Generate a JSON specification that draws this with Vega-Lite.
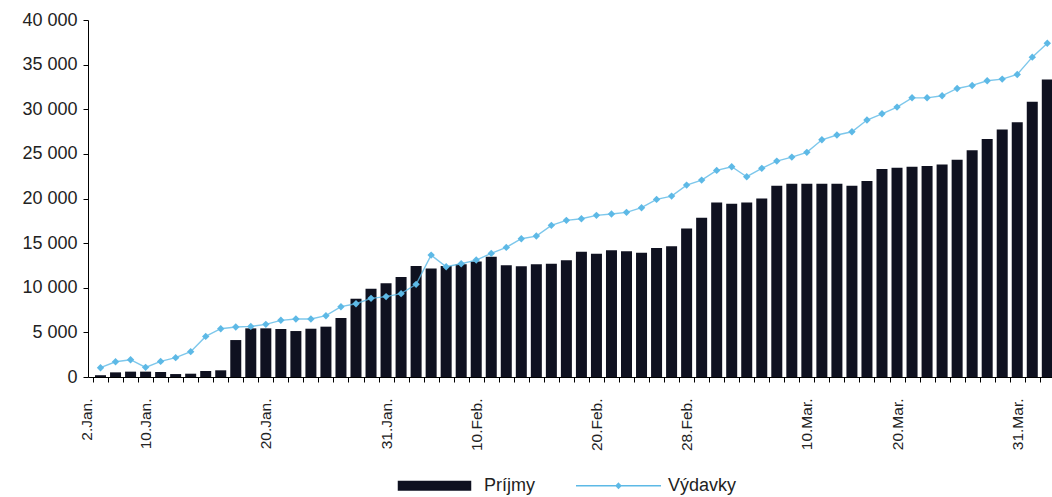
{
  "$schema": "https://vega.github.io/schema/vega-lite/v6.json",
  "width": 964,
  "height": 357,
  "autosize": {"type": "none"},
  "padding": {"left": 88, "top": 20, "right": 0, "bottom": 120},
  "background": "white",
  "config": {"view": {"stroke": null}, "font": "Liberation Sans"},
  "data": {"values": [
    {"i":0,"s":"Príjmy","v":200},{"i":1,"s":"Príjmy","v":520},{"i":2,"s":"Príjmy","v":600},{"i":3,"s":"Príjmy","v":600},
    {"i":4,"s":"Príjmy","v":560},{"i":5,"s":"Príjmy","v":330},{"i":6,"s":"Príjmy","v":370},{"i":7,"s":"Príjmy","v":670},
    {"i":8,"s":"Príjmy","v":750},{"i":9,"s":"Príjmy","v":4140},{"i":10,"s":"Príjmy","v":5450},{"i":11,"s":"Príjmy","v":5450},
    {"i":12,"s":"Príjmy","v":5380},{"i":13,"s":"Príjmy","v":5150},{"i":14,"s":"Príjmy","v":5410},{"i":15,"s":"Príjmy","v":5640},
    {"i":16,"s":"Príjmy","v":6610},{"i":17,"s":"Príjmy","v":8770},{"i":18,"s":"Príjmy","v":9890},{"i":19,"s":"Príjmy","v":10500},
    {"i":20,"s":"Príjmy","v":11200},{"i":21,"s":"Príjmy","v":12430},{"i":22,"s":"Príjmy","v":12170},{"i":23,"s":"Príjmy","v":12430},
    {"i":24,"s":"Príjmy","v":12620},{"i":25,"s":"Príjmy","v":12950},{"i":26,"s":"Príjmy","v":13480},{"i":27,"s":"Príjmy","v":12510},
    {"i":28,"s":"Príjmy","v":12400},{"i":29,"s":"Príjmy","v":12620},{"i":30,"s":"Príjmy","v":12690},{"i":31,"s":"Príjmy","v":13070},
    {"i":32,"s":"Príjmy","v":14030},{"i":33,"s":"Príjmy","v":13810},{"i":34,"s":"Príjmy","v":14190},{"i":35,"s":"Príjmy","v":14080},
    {"i":36,"s":"Príjmy","v":13920},{"i":37,"s":"Príjmy","v":14450},{"i":38,"s":"Príjmy","v":14640},{"i":39,"s":"Príjmy","v":16650},
    {"i":40,"s":"Príjmy","v":17840},{"i":41,"s":"Príjmy","v":19560},{"i":42,"s":"Príjmy","v":19410},{"i":43,"s":"Príjmy","v":19560},
    {"i":44,"s":"Príjmy","v":20010},{"i":45,"s":"Príjmy","v":21430},{"i":46,"s":"Príjmy","v":21650},{"i":47,"s":"Príjmy","v":21650},
    {"i":48,"s":"Príjmy","v":21650},{"i":49,"s":"Príjmy","v":21650},{"i":50,"s":"Príjmy","v":21430},{"i":51,"s":"Príjmy","v":21950},
    {"i":52,"s":"Príjmy","v":23300},{"i":53,"s":"Príjmy","v":23450},{"i":54,"s":"Príjmy","v":23560},{"i":55,"s":"Príjmy","v":23630},
    {"i":56,"s":"Príjmy","v":23820},{"i":57,"s":"Príjmy","v":24340},{"i":58,"s":"Príjmy","v":25420},{"i":59,"s":"Príjmy","v":26660},
    {"i":60,"s":"Príjmy","v":27740},{"i":61,"s":"Príjmy","v":28530},{"i":62,"s":"Príjmy","v":30840},{"i":63,"s":"Príjmy","v":33340},
    {"i":0,"s":"Výdavky","v":1040},{"i":1,"s":"Výdavky","v":1710},{"i":2,"s":"Výdavky","v":1940},{"i":3,"s":"Výdavky","v":1080},
    {"i":4,"s":"Výdavky","v":1750},{"i":5,"s":"Výdavky","v":2170},{"i":6,"s":"Výdavky","v":2840},{"i":7,"s":"Výdavky","v":4550},
    {"i":8,"s":"Výdavky","v":5410},{"i":9,"s":"Výdavky","v":5600},{"i":10,"s":"Výdavky","v":5670},{"i":11,"s":"Výdavky","v":5900},
    {"i":12,"s":"Výdavky","v":6350},{"i":13,"s":"Výdavky","v":6500},{"i":14,"s":"Výdavky","v":6500},{"i":15,"s":"Výdavky","v":6870},
    {"i":16,"s":"Výdavky","v":7880},{"i":17,"s":"Výdavky","v":8210},{"i":18,"s":"Výdavky","v":8810},{"i":19,"s":"Výdavky","v":9010},
    {"i":20,"s":"Výdavky","v":9340},{"i":21,"s":"Výdavky","v":10380},{"i":22,"s":"Výdavky","v":13660},{"i":23,"s":"Výdavky","v":12360},
    {"i":24,"s":"Výdavky","v":12690},{"i":25,"s":"Výdavky","v":13100},{"i":26,"s":"Výdavky","v":13850},{"i":27,"s":"Výdavky","v":14520},
    {"i":28,"s":"Výdavky","v":15490},{"i":29,"s":"Výdavky","v":15790},{"i":30,"s":"Výdavky","v":16990},{"i":31,"s":"Výdavky","v":17550},
    {"i":32,"s":"Výdavky","v":17730},{"i":33,"s":"Výdavky","v":18110},{"i":34,"s":"Výdavky","v":18260},{"i":35,"s":"Výdavky","v":18450},
    {"i":36,"s":"Výdavky","v":18970},{"i":37,"s":"Výdavky","v":19900},{"i":38,"s":"Výdavky","v":20270},{"i":39,"s":"Výdavky","v":21500},
    {"i":40,"s":"Výdavky","v":22060},{"i":41,"s":"Výdavky","v":23150},{"i":42,"s":"Výdavky","v":23560},{"i":43,"s":"Výdavky","v":22440},
    {"i":44,"s":"Výdavky","v":23380},{"i":45,"s":"Výdavky","v":24190},{"i":46,"s":"Výdavky","v":24640},{"i":47,"s":"Výdavky","v":25170},
    {"i":48,"s":"Výdavky","v":26580},{"i":49,"s":"Výdavky","v":27110},{"i":50,"s":"Výdavky","v":27480},{"i":51,"s":"Výdavky","v":28790},
    {"i":52,"s":"Výdavky","v":29490},{"i":53,"s":"Výdavky","v":30240},{"i":54,"s":"Výdavky","v":31280},{"i":55,"s":"Výdavky","v":31280},
    {"i":56,"s":"Výdavky","v":31510},{"i":57,"s":"Výdavky","v":32330},{"i":58,"s":"Výdavky","v":32670},{"i":59,"s":"Výdavky","v":33190},
    {"i":60,"s":"Výdavky","v":33380},{"i":61,"s":"Výdavky","v":33900},{"i":62,"s":"Výdavky","v":35840},{"i":63,"s":"Výdavky","v":37400}
  ]},
  "encoding": {
    "x": {
      "field": "i", "type": "quantitative",
      "scale": {"domain": [-0.5, 62.98], "nice": false, "zero": false},
      "axis": {
        "title": null, "grid": false,
        "values": [3,11,19,25,33,39,47,53,61,
          -0.5,0.5,1.5,2.5,3.5,4.5,5.5,6.5,7.5,8.5,9.5,10.5,11.5,12.5,13.5,14.5,15.5,16.5,17.5,18.5,19.5,
          20.5,21.5,22.5,23.5,24.5,25.5,26.5,27.5,28.5,29.5,30.5,31.5,32.5,33.5,34.5,35.5,36.5,37.5,38.5,39.5,
          40.5,41.5,42.5,43.5,44.5,45.5,46.5,47.5,48.5,49.5,50.5,51.5,52.5,53.5,54.5,55.5,56.5,57.5,58.5,59.5,
          60.5,61.5,62.5],
        "labelExpr": "datum.value == -0.5 ? '2.Jan.' : datum.value == 3 ? '10.Jan.' : datum.value == 11 ? '20.Jan.' : datum.value == 19 ? '31.Jan.' : datum.value == 25 ? '10.Feb.' : datum.value == 33 ? '20.Feb.' : datum.value == 39 ? '28.Feb.' : datum.value == 47 ? '10.Mar.' : datum.value == 53 ? '20.Mar.' : datum.value == 61 ? '31.Mar.' : ''",
        "labelAngle": -90,
        "labelFontSize": 15.5,
        "labelColor": "#222",
        "labelPadding": 16,
        "labelOffset": {"condition": {"test": "datum.value == -0.5", "value": -7}, "value": 0},
        "labelOverlap": false,
        "labelBound": false,
        "labelFlush": false,
        "tickSize": 5,
        "tickColor": "black",
        "tickOpacity": {"condition": {"test": "datum.value % 1 == 0", "value": 0}, "value": 1},
        "domainColor": "black"
      }
    },
    "y": {
      "field": "v", "type": "quantitative",
      "scale": {"domain": [0, 40000], "nice": false},
      "axis": {
        "title": null, "grid": false,
        "values": [0,5000,10000,15000,20000,25000,30000,35000,40000],
        "labelExpr": "replace(format(datum.value, ','), ',', ' ')",
        "labelFontSize": 18,
        "labelColor": "#222",
        "labelPadding": 6,
        "tickSize": 5,
        "tickColor": "black",
        "domainColor": "black"
      }
    },
    "color": {
      "field": "s", "type": "nominal",
      "scale": {"domain": ["Príjmy", "Výdavky"], "range": ["#0f1120", "#5db9e6"]},
      "legend": {
        "title": null,
        "orient": "none",
        "legendX": 303,
        "legendY": 422,
        "direction": "horizontal",
        "symbolSize": 7225,
        "symbolStrokeWidth": 1.5,
        "labelFontSize": 18,
        "labelColor": "#222",
        "labelOffset": 6,
        "columnPadding": 38,
        "encode": {
          "symbols": {
            "update": {
              "shape": {"signal": "datum.value == 'Príjmy' ? 'M-0.847,-0.1H0.847V0.1H-0.847Z' : 'M-1,0H1M0,-0.055L0.055,0L0,0.055L-0.055,0Z'"},
              "fill": {"signal": "datum.value == 'Príjmy' ? '#0f1120' : '#5db9e6'"},
              "stroke": {"signal": "datum.value == 'Príjmy' ? '#0f1120' : '#7fc6ea'"},
              "strokeWidth": {"value": 1.5},
              "opacity": {"value": 1},
              "fillOpacity": {"value": 1}
            }
          }
        }
      }
    }
  },
  "layer": [
    {
      "transform": [{"filter": "datum.s == 'Príjmy'"}],
      "mark": {"type": "bar", "width": 11, "clip": true}
    },
    {
      "transform": [{"filter": "datum.s == 'Výdavky'"}],
      "mark": {"type": "line", "strokeWidth": 1.4, "strokeOpacity": 0.8,
        "point": {"shape": "diamond", "size": 55, "filled": true, "opacity": 1}}
    }
  ]
}
